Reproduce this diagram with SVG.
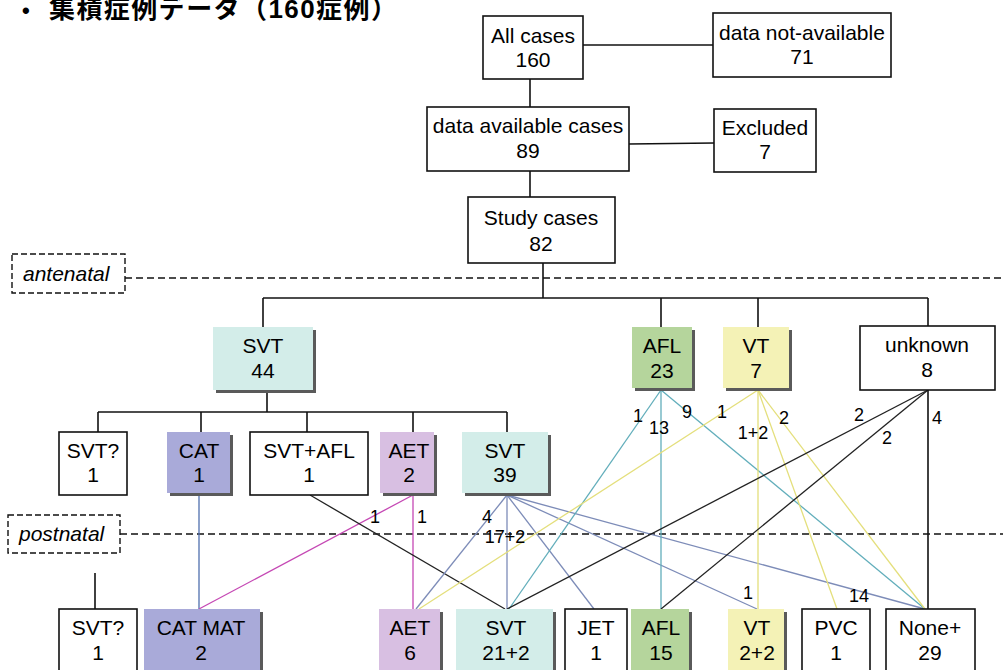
<svg xmlns="http://www.w3.org/2000/svg" width="1003" height="670" viewBox="0 0 1003 670">
  <style>
    .box { stroke: #111; stroke-width: 1.6; fill: #fff; }
    .fill { stroke: none; }
    .shadow { fill: #5a5a5a; }
    .svt { fill: #d3ede9; }
    .afl { fill: #b5d59c; }
    .vt { fill: #f4f2b6; }
    .cat { fill: #a9aad9; }
    .aet { fill: #d8bfe2; }
    .t { font-family: "Liberation Sans", Arial, sans-serif; font-size: 21px; fill: #000; text-anchor: middle; }
    .lbl { font-family: "Liberation Sans", Arial, sans-serif; font-size: 18px; fill: #000; text-anchor: middle; }
    .phase { font-family: "Liberation Sans", Arial, sans-serif; font-size: 21px; font-style: italic; fill: #000; }
    .dash { stroke: #111; stroke-width: 1.6; stroke-dasharray: 7 4; fill: none; }
    .dbox { stroke: #111; stroke-width: 1.4; stroke-dasharray: 6 3; fill: #fff; }
    .k { stroke: #111; stroke-width: 1.6; fill: none; }
    .kt { stroke: #222; stroke-width: 1.3; fill: none; }
    .blue { stroke: #4f6fae; stroke-width: 1.3; }
    .pink { stroke: #c548b4; stroke-width: 1.3; }
    .gb { stroke: #7d8cb8; stroke-width: 1.3; }
    .teal { stroke: #62aebb; stroke-width: 1.3; }
    .yel { stroke: #e4df7c; stroke-width: 1.3; }
  </style>

  <rect width="1003" height="670" fill="#fff"/>

  <!-- heading -->
  <text x="22" y="18" font-family="'Liberation Sans', Arial, sans-serif" font-size="22" font-weight="bold" fill="#000">•</text>
  <text x="49" y="18" textLength="348" lengthAdjust="spacing" font-family="'Liberation Sans', 'Noto Sans CJK JP', sans-serif" font-size="26" font-weight="bold" fill="#000">集積症例データ（160症例）</text>

  <!-- phase separators -->
  <g id="phase-lines">
    <line class="dash" x1="125" y1="278" x2="1003" y2="278"/>
    <line class="dash" x1="120" y1="534" x2="1003" y2="534"/>
  </g>

  <!-- connectors -->
  <g id="connectors">
    <!-- screening tree -->
    <line class="k" x1="583" y1="45" x2="713" y2="45"/>
    <line class="k" x1="530" y1="79" x2="530" y2="107"/>
    <line class="k" x1="629" y1="144" x2="714" y2="143"/>
    <line class="k" x1="530" y1="171" x2="530" y2="197"/>
    <line class="k" x1="543" y1="263" x2="543" y2="298"/>
    <line class="k" x1="263" y1="298" x2="928" y2="298"/>
    <line class="k" x1="263" y1="298" x2="263" y2="327"/>
    <line class="k" x1="661" y1="298" x2="661" y2="327"/>
    <line class="k" x1="758" y1="298" x2="758" y2="327"/>
    <line class="k" x1="928" y1="298" x2="928" y2="326"/>
    <!-- SVT 44 split -->
    <line class="k" x1="267" y1="392" x2="267" y2="412"/>
    <line class="k" x1="98" y1="412" x2="507" y2="412"/>
    <line class="k" x1="98" y1="412" x2="98" y2="432"/>
    <line class="k" x1="201" y1="412" x2="201" y2="432"/>
    <line class="k" x1="307" y1="412" x2="307" y2="432"/>
    <line class="k" x1="413" y1="412" x2="413" y2="432"/>
    <line class="k" x1="507" y1="412" x2="507" y2="432"/>
    <line class="k" x1="95" y1="573" x2="95" y2="609"/>

    <!-- antenatal to postnatal -->
    <line class="blue" x1="199" y1="495" x2="199" y2="609"/>
    <line class="pink" x1="413" y1="495" x2="199" y2="609"/>
    <line class="pink" x1="413" y1="495" x2="413" y2="609"/>
    <line class="kt" x1="310" y1="495" x2="505" y2="609"/>

    <line class="gb" x1="507" y1="495" x2="416" y2="609"/>
    <line class="gb" x1="507" y1="495" x2="507" y2="609"/>
    <line class="gb" x1="507" y1="495" x2="594" y2="609"/>
    <line class="gb" x1="507" y1="495" x2="757" y2="609"/>
    <line class="gb" x1="507" y1="495" x2="925" y2="609"/>

    <line class="teal" x1="661" y1="390" x2="509" y2="609"/>
    <line class="teal" x1="661" y1="390" x2="661" y2="609"/>
    <line class="teal" x1="661" y1="390" x2="925" y2="609"/>

    <line class="yel" x1="758" y1="390" x2="419" y2="609"/>
    <line class="yel" x1="758" y1="390" x2="758" y2="609"/>
    <line class="yel" x1="758" y1="390" x2="837" y2="609"/>
    <line class="yel" x1="758" y1="390" x2="925" y2="609"/>

    <line class="kt" x1="928" y1="390" x2="507" y2="609"/>
    <line class="kt" x1="928" y1="390" x2="661" y2="609"/>
    <line class="k" x1="928" y1="390" x2="928" y2="609"/>
  </g>

  <!-- connector counts -->
  <g id="counts">
    <text class="lbl" x="375" y="523">1</text>
    <text class="lbl" x="422" y="523">1</text>
    <text class="lbl" x="487" y="523">4</text>
    <text class="lbl" x="505" y="543">17+2</text>
    <text class="lbl" x="638" y="422">1</text>
    <text class="lbl" x="659" y="434">13</text>
    <text class="lbl" x="687" y="418">9</text>
    <text class="lbl" x="722" y="418">1</text>
    <text class="lbl" x="753" y="439">1+2</text>
    <text class="lbl" x="784" y="424">2</text>
    <text class="lbl" x="859" y="421">2</text>
    <text class="lbl" x="887" y="444">2</text>
    <text class="lbl" x="937" y="424">4</text>
    <text class="lbl" x="748" y="599">1</text>
    <text class="lbl" x="859" y="602">14</text>
  </g>

  <!-- phase tags -->
  <g id="tag-antenatal">
    <rect class="dbox" x="12" y="254" width="113" height="39"/>
    <text class="phase" x="23" y="281">antenatal</text>
  </g>
  <g id="tag-postnatal">
    <rect class="dbox" x="8" y="515" width="112" height="38"/>
    <text class="phase" x="19" y="541">postnatal</text>
  </g>

  <!-- screening -->
  <g id="all-cases">
    <rect class="box" x="483" y="16" width="100" height="63"/>
    <text class="t" x="533" y="43">All cases</text>
    <text class="t" x="533" y="67">160</text>
  </g>
  <g id="not-available">
    <rect class="box" x="713" y="13" width="178" height="64"/>
    <text class="t" x="802" y="40">data not-available</text>
    <text class="t" x="802" y="64">71</text>
  </g>
  <g id="available">
    <rect class="box" x="427" y="107" width="202" height="64"/>
    <text class="t" x="528" y="133">data available cases</text>
    <text class="t" x="528" y="158">89</text>
  </g>
  <g id="excluded">
    <rect class="box" x="714" y="109" width="102" height="63"/>
    <text class="t" x="765" y="135">Excluded</text>
    <text class="t" x="765" y="159">7</text>
  </g>
  <g id="study">
    <rect class="box" x="468" y="197" width="147" height="66"/>
    <text class="t" x="541" y="225">Study cases</text>
    <text class="t" x="541" y="251">82</text>
  </g>

  <!-- antenatal diagnosis -->
  <g id="ante-svt">
    <rect class="shadow" x="216" y="330" width="100" height="63"/>
    <rect class="fill svt" x="213" y="327" width="100" height="63"/>
    <text class="t" x="263" y="353">SVT</text>
    <text class="t" x="263" y="378">44</text>
  </g>
  <g id="ante-afl">
    <rect class="shadow" x="635" y="330" width="60" height="61"/>
    <rect class="fill afl" x="632" y="327" width="60" height="61"/>
    <text class="t" x="662" y="353">AFL</text>
    <text class="t" x="662" y="378">23</text>
  </g>
  <g id="ante-vt">
    <rect class="shadow" x="726" y="330" width="66" height="61"/>
    <rect class="fill vt" x="723" y="327" width="66" height="61"/>
    <text class="t" x="756" y="353">VT</text>
    <text class="t" x="756" y="378">7</text>
  </g>
  <g id="ante-unknown">
    <rect class="box" x="860" y="326" width="135" height="64"/>
    <text class="t" x="927" y="352">unknown</text>
    <text class="t" x="927" y="377">8</text>
  </g>

  <!-- SVT subtypes -->
  <g id="sub-svtq">
    <rect class="box" x="59" y="432" width="68" height="63"/>
    <text class="t" x="93" y="458">SVT?</text>
    <text class="t" x="93" y="482">1</text>
  </g>
  <g id="sub-cat">
    <rect class="shadow" x="170" y="435" width="63" height="61"/>
    <rect class="fill cat" x="167" y="432" width="63" height="61"/>
    <text class="t" x="199" y="458">CAT</text>
    <text class="t" x="199" y="482">1</text>
  </g>
  <g id="sub-svtafl">
    <rect class="box" x="250" y="432" width="118" height="63"/>
    <text class="t" x="309" y="458">SVT+AFL</text>
    <text class="t" x="309" y="482">1</text>
  </g>
  <g id="sub-aet">
    <rect class="shadow" x="383" y="435" width="54" height="61"/>
    <rect class="fill aet" x="380" y="432" width="54" height="61"/>
    <text class="t" x="409" y="458">AET</text>
    <text class="t" x="409" y="482">2</text>
  </g>
  <g id="sub-svt">
    <rect class="shadow" x="465" y="435" width="86" height="61"/>
    <rect class="fill svt" x="462" y="432" width="86" height="61"/>
    <text class="t" x="505" y="458">SVT</text>
    <text class="t" x="505" y="482">39</text>
  </g>

  <!-- postnatal diagnosis -->
  <g id="post-svtq">
    <rect class="box" x="59" y="609" width="78" height="75"/>
    <text class="t" x="98" y="635">SVT?</text>
    <text class="t" x="98" y="660">1</text>
  </g>
  <g id="post-catmat">
    <rect class="shadow" x="147" y="612" width="116" height="70"/>
    <rect class="fill cat" x="144" y="609" width="116" height="75"/>
    <text class="t" x="201" y="635">CAT MAT</text>
    <text class="t" x="201" y="660">2</text>
  </g>
  <g id="post-aet">
    <rect class="shadow" x="382" y="612" width="61" height="70"/>
    <rect class="fill aet" x="379" y="609" width="61" height="75"/>
    <text class="t" x="410" y="635">AET</text>
    <text class="t" x="410" y="660">6</text>
  </g>
  <g id="post-svt">
    <rect class="shadow" x="459" y="612" width="97" height="70"/>
    <rect class="fill svt" x="456" y="609" width="97" height="75"/>
    <text class="t" x="506" y="635">SVT</text>
    <text class="t" x="506" y="660">21+2</text>
  </g>
  <g id="post-jet">
    <rect class="box" x="565" y="609" width="62" height="75"/>
    <text class="t" x="596" y="635">JET</text>
    <text class="t" x="596" y="660">1</text>
  </g>
  <g id="post-afl">
    <rect class="shadow" x="634" y="612" width="58" height="70"/>
    <rect class="fill afl" x="631" y="609" width="58" height="75"/>
    <text class="t" x="661" y="635">AFL</text>
    <text class="t" x="661" y="660">15</text>
  </g>
  <g id="post-vt">
    <rect class="shadow" x="731" y="612" width="56" height="70"/>
    <rect class="fill vt" x="728" y="609" width="56" height="75"/>
    <text class="t" x="757" y="635">VT</text>
    <text class="t" x="757" y="660">2+2</text>
  </g>
  <g id="post-pvc">
    <rect class="box" x="802" y="609" width="68" height="75"/>
    <text class="t" x="836" y="635">PVC</text>
    <text class="t" x="836" y="660">1</text>
  </g>
  <g id="post-none">
    <rect class="box" x="886" y="609" width="89" height="75"/>
    <text class="t" x="930" y="635">None+</text>
    <text class="t" x="930" y="660">29</text>
  </g>
</svg>
